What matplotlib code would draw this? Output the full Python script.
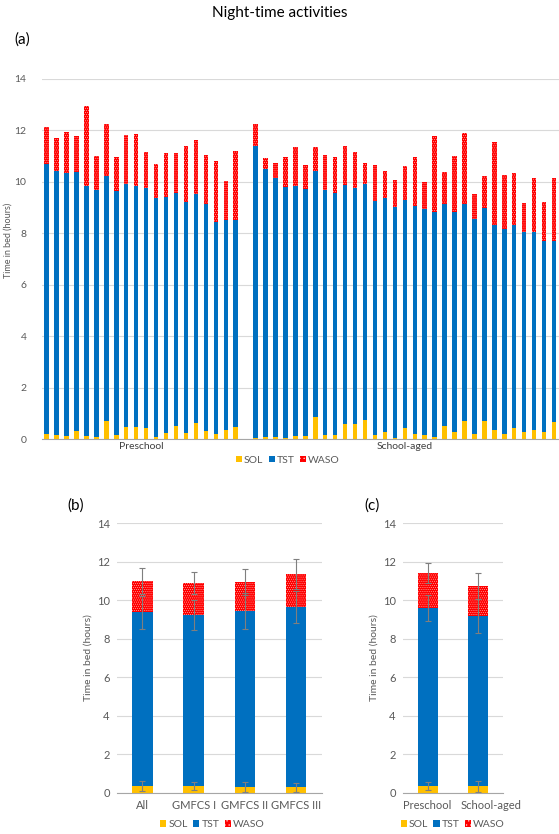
import matplotlib.pyplot as plt
import numpy as np
from matplotlib.patches import Patch

plt.rcParams['font.family'] = ['Lato', 'DejaVu Sans']
plt.rcParams['hatch.linewidth'] = 0.3

# panel (a): per child, cumulative tops (hours)
pre_sol = [0.19, 0.16, 0.13, 0.32, 0.12, 0.08, 0.70, 0.14, 0.48, 0.48,
           0.41, 0.08, 0.25, 0.50, 0.25, 0.62, 0.32, 0.19, 0.35, 0.47]
pre_tst_top = [10.71, 10.42, 10.36, 10.38, 9.84, 9.70, 10.23, 9.66, 9.92, 9.84,
               9.77, 9.39, 9.40, 9.57, 9.23, 9.53, 9.13, 8.44, 8.50, 8.50]
pre_total = [12.12, 11.70, 11.92, 11.78, 12.94, 11.02, 12.25, 10.95, 11.83, 11.86,
             11.17, 10.71, 11.13, 11.13, 11.39, 11.62, 11.05, 10.81, 10.03, 11.21]

sch_sol = [0.03, 0.08, 0.08, 0.04, 0.10, 0.13, 0.84, 0.16, 0.17, 0.57, 0.57,
           0.74, 0.16, 0.28, 0.03, 0.44, 0.21, 0.16, 0.09, 0.52, 0.26, 0.72,
           0.19, 0.70, 0.35, 0.21, 0.44, 0.28, 0.36, 0.28, 0.67]
sch_tst_top = [11.39, 10.51, 10.16, 9.81, 9.83, 9.71, 10.41, 9.70, 9.58, 9.86, 9.76,
               9.90, 9.26, 9.37, 9.02, 9.31, 9.05, 8.94, 8.82, 9.15, 8.84, 9.15,
               8.56, 8.98, 8.32, 8.18, 8.34, 8.06, 8.06, 7.69, 7.69]
sch_total = [12.25, 10.93, 10.74, 10.95, 11.34, 10.64, 11.34, 11.06, 10.98, 11.38, 11.16,
             10.72, 10.67, 10.41, 10.07, 10.61, 10.98, 9.99, 11.78, 10.37, 11.00, 11.90,
             9.54, 10.24, 11.55, 10.27, 10.34, 9.19, 10.14, 9.22, 10.16]

# panel (b): means and SDs
grp_labels = ['All', 'GMFCS I', 'GMFCS II', 'GMFCS III']
grp_sol = [0.35, 0.36, 0.31, 0.28]
grp_tst = [9.03, 8.89, 9.14, 9.39]
grp_waso = [1.61, 1.65, 1.50, 1.70]
grp_sol_sd = [0.24, 0.22, 0.26, 0.25]
grp_tst_sd = [0.86, 0.79, 0.95, 0.83]
grp_waso_sd = [0.67, 0.57, 0.70, 0.80]

# panel (c)
age_labels = ['Preschool', 'School-aged']
age_sol = [0.35, 0.33]
age_tst = [9.27, 8.87]
age_waso = [1.80, 1.53]
age_sol_sd = [0.20, 0.28]
age_tst_sd = [0.68, 0.88]
age_waso_sd = [0.52, 0.67]

C_SOL = '#FFC000'
C_TST = '#0070C0'
C_WASO = '#FF0000'
TXT = '#595959'
GRID = '#d9d9d9'
HATCH = '........'


def style_axis(ax, fs):
    ax.set_ylim(0, 14)
    ax.set_yticks(range(0, 15, 2))
    ax.yaxis.grid(True, color=GRID, lw=0.8)
    ax.set_axisbelow(True)
    for s in ['top', 'right', 'left']:
        ax.spines[s].set_visible(False)
    ax.spines['bottom'].set_color('#a6a6a6')
    ax.tick_params(axis='both', length=0, colors=TXT, labelsize=fs)


def legend_handles():
    return [Patch(facecolor=C_SOL, label='SOL'),
            Patch(facecolor=C_TST, label='TST'),
            Patch(facecolor=C_WASO, edgecolor='white', lw=0, hatch='....', label='WASO')]


def stacked(ax, x, sol, tst, waso, width):
    ax.bar(x, sol, width, color=C_SOL, lw=0)
    ax.bar(x, tst, width, bottom=sol, color=C_TST, lw=0)
    bot = np.array(sol) + np.array(tst)
    ax.bar(x, waso, width, bottom=bot, facecolor=C_WASO, edgecolor='#ffd0d0',
           lw=0, hatch=HATCH)
    return bot


fig = plt.figure(figsize=(5.59, 8.34), dpi=100)
fig.text(0.5, 0.984, 'Night-time activities', ha='center', va='center', fontsize=11)
fig.text(0.025, 0.953, '(a)', ha='left', va='center', fontsize=11)
fig.text(0.12, 0.394, '(b)', ha='left', va='center', fontsize=11)
fig.text(0.652, 0.394, '(c)', ha='left', va='center', fontsize=11)

# ---- (a)
axa = fig.add_axes([0.0746, 0.4736, 0.9254, 0.4317])
sol = pre_sol + sch_sol
tst_top = pre_tst_top + sch_tst_top
total = pre_total + sch_total
xa = list(range(len(pre_sol))) + list(range(len(pre_sol) + 1, len(pre_sol) + 1 + len(sch_sol)))
tst = [t - s for t, s in zip(tst_top, sol)]
waso = [w - t for w, t in zip(total, tst_top)]
stacked(axa, xa, sol, tst, waso, 0.45)
style_axis(axa, 7.5)
axa.set_xlim(-0.5, len(xa) + 0.5)
axa.set_xticks([(len(pre_sol) - 1) / 2, len(pre_sol) + 1 + (len(sch_sol) - 1) / 2])
axa.set_xticklabels(['Preschool', 'School-aged'], color='#404040', fontsize=7.5)
axa.tick_params(axis='x', pad=2)
axa.tick_params(axis='y', pad=11)
fig.text(0.014, 0.712, 'Time in bed (hours)', rotation=90, ha='center', va='center',
         fontsize=6.5, color=TXT)
fig.legend(handles=legend_handles(), loc='center', bbox_to_anchor=(0.515, 0.4484),
           ncol=3, frameon=False, fontsize=7.5, handlelength=0.6, handleheight=0.6,
           handletextpad=0.2, columnspacing=0.5, labelcolor=TXT)


def summary(rect, labels, s, t, w, ssd, tsd, wsd, legx, tickx=None):
    ax = fig.add_axes(rect)
    x = np.arange(len(labels))
    tst_cum = stacked(ax, x, s, t, w, 0.4)
    tot = tst_cum + np.array(w)
    ek = dict(fmt='none', ecolor='#7f7f7f', elinewidth=0.8, capsize=2.5, capthick=0.8)
    ax.errorbar(x, s, yerr=ssd, **ek)
    ax.errorbar(x, tst_cum, yerr=tsd, **ek)
    ax.errorbar(x, tot, yerr=wsd, **ek)
    style_axis(ax, 8)
    ax.set_xlim(-0.5, len(labels) - 0.5)
    ax.set_xticks(x if tickx is None else tickx)
    ax.set_xticklabels(labels)
    ax.tick_params(axis='x', pad=5)
    ax.tick_params(axis='y', pad=5)
    ax.set_ylabel('Time in bed (hours)', fontsize=7.5, color=TXT, labelpad=3)
    fig.legend(handles=legend_handles(), loc='center', bbox_to_anchor=(legx, 0.011),
               ncol=3, frameon=False, fontsize=7.5, handlelength=0.6, handleheight=0.6,
               handletextpad=0.2, columnspacing=0.5, labelcolor=TXT)
    return ax


summary([0.2088, 0.0495, 0.3667, 0.3230], grp_labels, grp_sol, grp_tst, grp_waso,
        grp_sol_sd, grp_tst_sd, grp_waso_sd, 0.38)
summary([0.7204, 0.0495, 0.1789, 0.3230], age_labels, age_sol, age_tst, age_waso,
        age_sol_sd, age_tst_sd, age_waso_sd, 0.81, tickx=[-0.02, 1.27])

fig.savefig('out.png', dpi=100)
